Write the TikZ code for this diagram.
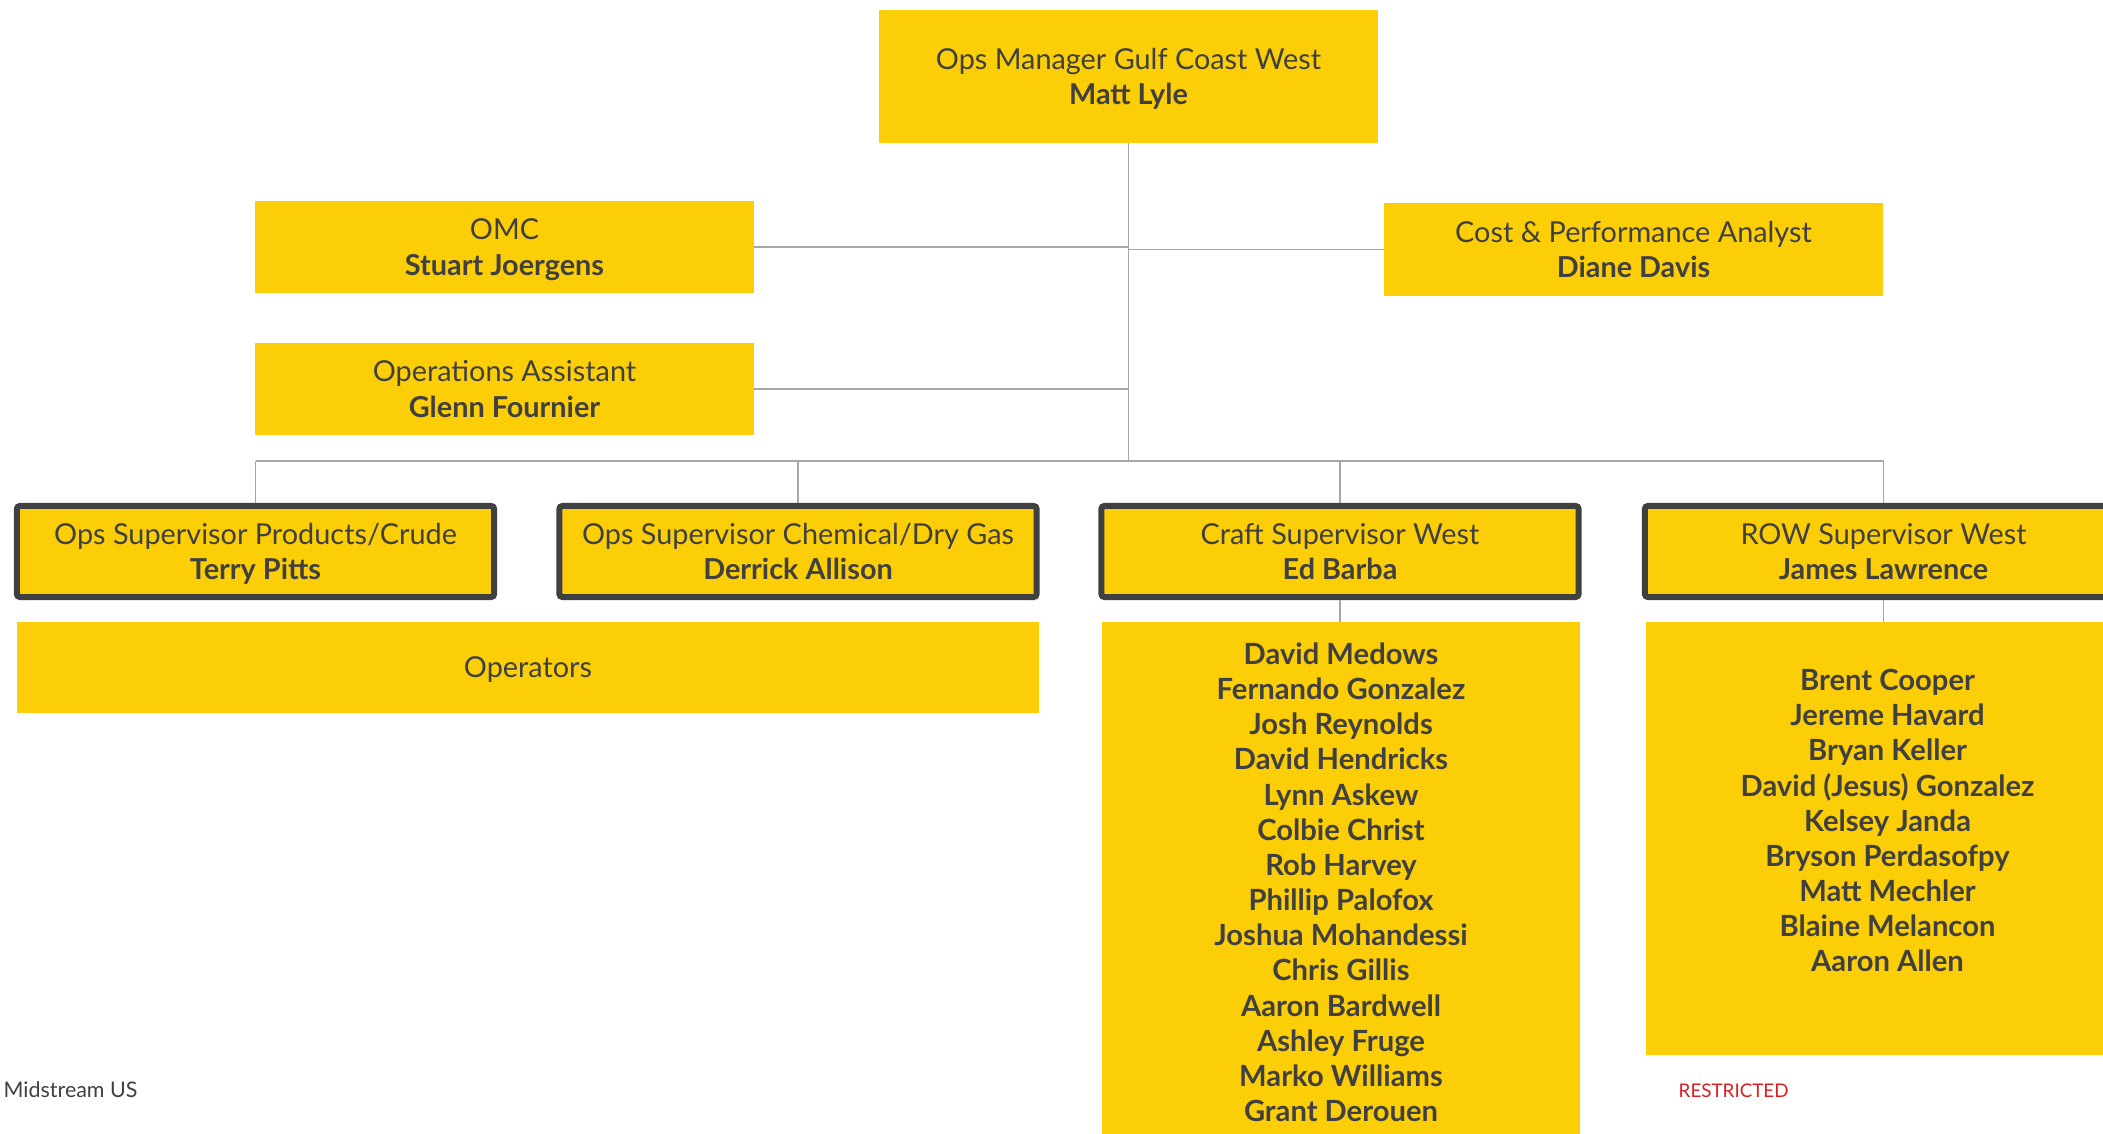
\documentclass[tikz,border=0pt]{standalone}
\usepackage{fontspec}
\setmainfont{Lato}
\definecolor{shellyellow}{HTML}{FBCE07}
\definecolor{ink}{HTML}{404040}
\definecolor{wiregray}{HTML}{A6A6A6}
\definecolor{restrictred}{HTML}{DD1D21}
\begin{document}
\begin{tikzpicture}[x=0.01cm, y=-0.01cm,
    post/.style={fill=shellyellow, text=ink, align=center, inner sep=0pt, outer sep=0pt, text depth=0pt,
      minimum width=4.99cm, minimum height=0.92cm, font=\fontsize{8.2}{10}\selectfont},
    lead/.style={post, draw=ink, line width=0.06cm, rounded corners=0.03cm,
      outer sep=0.03cm, minimum width=4.77cm, minimum height=0.91cm},
    crew/.style={post, font=\fontsize{8.3}{10}\selectfont\bfseries},
    wire/.style={draw=wiregray, line width=0.018cm}]
  \clip (0,0) rectangle (2103,1134);

  \node[post, minimum height=1.33cm] (mgr) at (1128.5,76.5) {Ops Manager Gulf Coast West\\\textbf{Matt Lyle}};
  \node[post] (omc) at (504.5,247) {OMC\\\textbf{Stuart Joergens}};
  \node[post] (asst) at (504.5,389) {Operations Assistant\\\textbf{Glenn Fournier}};
  \node[post] (cpa) at (1633.5,249.5) {Cost \& Performance Analyst\\\textbf{Diane Davis}};

  \node[lead] (prod) at (255.5,551.5) {Ops Supervisor Products/Crude\\\textbf{Terry Pitts}};
  \node[lead] (chem) at (798,551.5) {Ops Supervisor Chemical/Dry Gas\\\textbf{Derrick Allison}};
  \node[lead] (craft) at (1340,551.5) {Craft Supervisor West\\\textbf{Ed Barba}};
  \node[lead] (row) at (1883.5,551.5) {ROW Supervisor West\\\textbf{James Lawrence}};

  \node[post, minimum width=10.22cm, minimum height=0.91cm] (ops) at (528,667.5) {Operators};

  \node[crew, anchor=north, minimum width=4.78cm, minimum height=5.2cm] (craftcrew) at (1341,622)
    {David Medows\\Fernando Gonzalez\\Josh Reynolds\\David Hendricks\\Lynn Askew\\Colbie Christ\\Rob Harvey\\
     Phillip Palofox\\Joshua Mohandessi\\Chris Gillis\\Aaron Bardwell\\Ashley Fruge\\Marko Williams\\Grant Derouen};
  \node[post, anchor=north, minimum width=4.83cm, minimum height=4.33cm] (rowcrew) at (1887.5,622) {};
  \node[crew, fill=none, minimum width=0pt, minimum height=0pt] (rowlist) at ([yshift=0.18cm]rowcrew.center)
    {Brent Cooper\\Jereme Havard\\Bryan Keller\\David (Jesus) Gonzalez\\Kelsey Janda\\Bryson Perdasofpy\\
     Matt Mechler\\Blaine Melancon\\Aaron Allen};

  % connectors
  \coordinate (bus) at (1128,461);
  \draw[wire] (mgr.south) -- (mgr.south |- bus);
  \draw[wire] (omc.east) -- (omc.east -| mgr.south);
  \draw[wire] (asst.east) -- (asst.east -| mgr.south);
  \draw[wire] (cpa.west) -- (cpa.west -| mgr.south);
  \draw[wire] (prod.north |- bus) -- (row.north |- bus);
  \foreach \s in {prod,chem,craft,row}{
    \draw[wire] (\s.north) -- (\s.north |- bus);
  }
  \draw[wire] (craft.south) -- (craft.south |- craftcrew.north);
  \draw[wire] (row.south) -- (row.south |- rowcrew.north);

  \node[anchor=base west, inner sep=0pt, text=ink, font=\fontsize{6.1}{8}\selectfont] (foot) at (3,1097) {Midstream US};
  \node[anchor=base west, inner sep=0pt, text=restrictred, font=\fontsize{5.35}{7}\selectfont] (mark) at (1678,1097) {RESTRICTED};
\end{tikzpicture}
\end{document}
